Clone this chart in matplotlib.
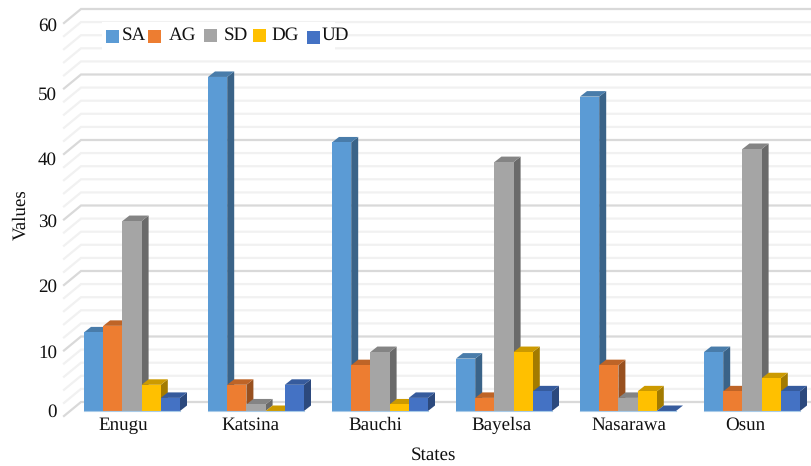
import matplotlib
matplotlib.use("Agg")
import matplotlib.pyplot as plt
import matplotlib.colors as mcolors
from matplotlib.patches import Polygon, Rectangle
from matplotlib.transforms import Affine2D
import numpy as np

states = ["Enugu", "Katsina", "Bauchi", "Bayelsa", "Nasarawa", "Osun"]
series_names = ["SA", "AG", "SD", "DG", "UD"]
sa = [12, 51, 41, 8, 48, 9]
ag = [13, 4, 7, 2, 7, 3]
sd = [29, 1, 9, 38, 2, 40]
dg = [4, 0, 1, 9, 3, 5]
ud = [2, 4, 2, 3, 0, 3]
y_ticks = [0, 10, 20, 30, 40, 50, 60]

colors = ["#5B9BD5", "#ED7D31", "#A5A5A5", "#FFC000", "#4472C4"]

W, H = 812, 466
PX_PER_GROUP = 124.0
PX_PER_UNIT = 6.55
CENTER0_PX = 132.0
BASE_PX = 411.0


def to_x(px):
    return px / PX_PER_GROUP


def to_y(px):
    return px / PX_PER_UNIT


def shade(color, f):
    return tuple(c * f for c in mcolors.to_rgb(color))


plt.rcParams["font.family"] = ["Liberation Serif", "DejaVu Serif"]
plt.rcParams["font.size"] = 13.5
plt.rcParams["text.hinting"] = "no_hinting"
plt.rcParams["text.hinting_factor"] = 1

fig = plt.figure(figsize=(W / 100, H / 100), dpi=100)
ax = fig.add_axes([0, 0, 1, 1])
ax.set_xlim(to_x(-CENTER0_PX), to_x(W - CENTER0_PX))
ax.set_ylim(to_y(BASE_PX - H), to_y(BASE_PX))
ax.axis("off")

# pixel transform, y running downwards, for the legend and text labels
px = Affine2D().scale(1, -1).translate(0, H)

# back wall and side wall grid
wall_x = to_x(81 - CENTER0_PX)
side_x = to_x(64 - CENTER0_PX)
wall_dy = to_y(9)
side_dy = to_y(-5)
right_x = to_x(W - CENTER0_PX)
for v in np.arange(0, 61, 2):
    major = v % 10 == 0
    col = "#d9d9d9" if major else "#f1f1f1"
    ax.plot([side_x, wall_x, right_x],
            [v + side_dy, v + wall_dy, v + wall_dy],
            color=col, lw=1.6, zorder=1, solid_joinstyle="miter")

# legend sits on a white panel over the grid
ax.add_patch(Rectangle((102, 22), 233, 28, transform=px, fc="white", ec="none", zorder=2))

# 3D-looking bars: front face from ax.bar, side and top as depth polygons
bar_w = to_x(19.2)
depth_x = to_x(7)
depth_y = to_y(5.5)
all_series = [sa, ag, sd, dg, ud]
z = 3
for g in range(len(states)):
    for s, values in enumerate(all_series):
        v = values[g]
        x0 = g + (s - 2.5) * bar_w
        x1 = x0 + bar_w
        side = Polygon([(x1, 0), (x1 + depth_x, depth_y), (x1 + depth_x, v + depth_y), (x1, v)],
                       fc=shade(colors[s], 0.64), ec="none", zorder=z)
        top = Polygon([(x0, v), (x0 + depth_x, v + depth_y), (x1 + depth_x, v + depth_y), (x1, v)],
                      fc=shade(colors[s], 0.8), ec="none", zorder=z)
        ax.add_patch(side)
        ax.add_patch(top)
        ax.bar(x0, v, width=bar_w, align="edge", color=colors[s], lw=0, zorder=z + 0.5)
        z += 1
    # thin pale line along the foot of each group
    ax.plot([g - 2.5 * bar_w, g + 2.5 * bar_w], [0, 0], color="#a9cbe8", lw=0.8, zorder=z)

# value axis labels
tick_y_px = [412, 353, 287, 222, 160, 95, 26]
for v, y in zip(y_ticks, tick_y_px):
    ax.text(57, y, str(v), transform=px, ha="right", va="center", color="#111111")

# category labels
state_x_px = [123, 250.5, 375, 501.5, 628.5, 745]
for name, x in zip(states, state_x_px):
    ax.text(x, 430, name, transform=px, ha="center", va="baseline", color="#111111")

ax.text(433, 455, "States", transform=px, ha="center", va="center", color="#111111")
ax.text(21, 214.5, "Values", transform=px, ha="center", va="center", rotation=90, color="#111111")

# legend
swatch_x = [106, 148, 204, 253, 307]
swatch_y = [29.5, 29.5, 29, 28.5, 31]
label_x = [121.5, 169, 224, 271, 321.5]
for s, name in enumerate(series_names):
    ax.add_patch(Rectangle((swatch_x[s], swatch_y[s]), 13, 13, transform=px, fc=colors[s], ec="none", zorder=2.5))
    ax.text(label_x[s], 40, name, transform=px, ha="left", va="baseline", color="#111111", zorder=2.5)

fig.savefig("out.png", dpi=100)
